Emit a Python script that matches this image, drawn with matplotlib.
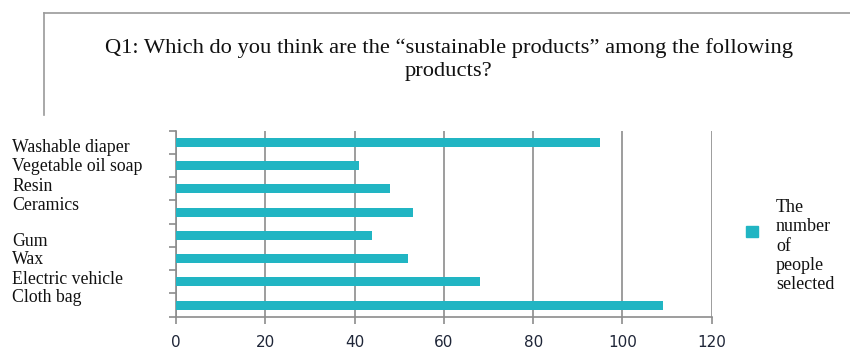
import numpy as np
import matplotlib.pyplot as plt
from matplotlib.lines import Line2D
from matplotlib.ticker import MultipleLocator, FixedLocator

products = ['Washable diaper', 'Vegetable oil soap', 'Resin', 'Ceramics',
            'Gum', 'Wax', 'Electric vehicle', 'Cloth bag']
people = [95, 41, 48, 53, 44, 52, 68, 109]
series_name = 'The\nnumber\nof\npeople\nselected'
title = 'Q1: Which do you think are the \u201csustainable products\u201d among the following\nproducts?'

bar_color = '#21b5c3'
grid_color = '#8c8c8c'
serif = ['Liberation Serif', 'DejaVu Serif']

W, H = 850, 354
fig = plt.figure(figsize=(W / 100, H / 100), dpi=100)

# outer frame (partial, as in the cropped screenshot)
fig.add_artist(Line2D([44 / W, 1], [1 - 13 / H, 1 - 13 / H], color='#9a9a9a', lw=1.2))
fig.add_artist(Line2D([44 / W, 44 / W], [1 - 13 / H, 1 - 115 / H], color='#9a9a9a', lw=1.2))

fig.text(449 / W, 1 - 60 / H, title, ha='center', va='center', family=serif,
         fontsize=16.2, linespacing=1.28, color='#111111')

ax = fig.add_axes([176 / W, 1 - 316.7 / H, (711.7 - 176) / W, (316.7 - 130.7) / H])
y = np.arange(len(products))
ax.barh(y, people, height=0.39, color=bar_color, zorder=3)
ax.set_xlim(0, 120)
ax.set_ylim(len(products) - 0.5, -0.5)

ax.xaxis.set_major_locator(MultipleLocator(20))
ax.grid(axis='x', color=grid_color, lw=1.2, zorder=0)
ax.yaxis.set_major_locator(FixedLocator(np.arange(len(products) + 1) - 0.5))
ax.set_yticklabels([])
for s in ['top', 'right']:
    ax.spines[s].set_visible(False)
for s in ['left', 'bottom']:
    ax.spines[s].set_color(grid_color)
    ax.spines[s].set_linewidth(1.2)
ax.tick_params(axis='both', color=grid_color, width=1.2, length=5)
ax.tick_params(axis='x', labelsize=11, labelcolor='#1f2638', pad=8)

# category labels sit in their own column, loosely spaced as in the source
slots = [0, 1, 2, 3, 5, 6, 7, 8]
for name, s in zip(products, slots):
    yy = 148 + 19 * s if s < 4 else 241 + 19 * (s - 5)
    fig.text(12 / W, 1 - yy / H, name, ha='left', va='center', family=serif,
             fontsize=12.8, color='#111111')

# legend
fig.add_artist(plt.Rectangle((746 / W, 1 - 237 / H), 11.5 / W, 11.5 / H,
                             color=bar_color, transform=fig.transFigure))
fig.text(776 / W, 1 - 246 / H, series_name, ha='left', va='center', family=serif,
         fontsize=13, linespacing=1.17, color='#111111')

fig.savefig('out.png', dpi=100)
